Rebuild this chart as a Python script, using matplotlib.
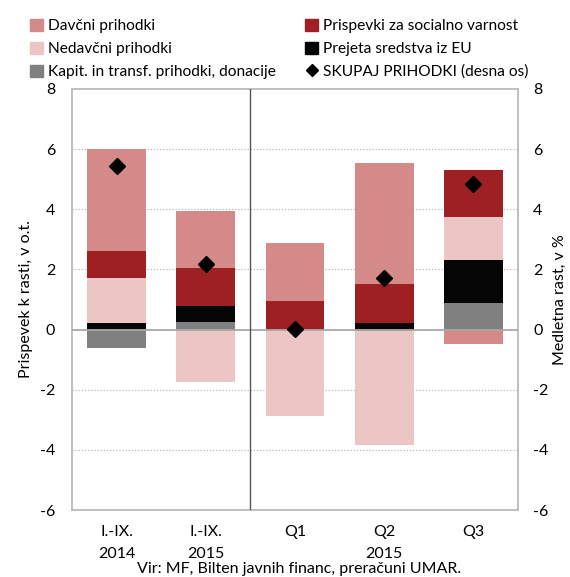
import matplotlib
matplotlib.use("Agg")
import matplotlib.pyplot as plt
from matplotlib.patches import Patch
from matplotlib.lines import Line2D
import numpy as np

plt.rcParams['font.family'] = ['Lato', 'DejaVu Sans']

categories = ["I.-IX.\n2014", "I.-IX.\n2015", "Q1", "Q2\n2015", "Q3"]
davcni = [3.41, 1.89, 1.95, 4.02, -0.47]
prispevki = [0.90, 1.26, 0.94, 1.30, 1.56]
nedavcni = [1.50, -1.75, -2.89, -3.79, 1.43]
eu = [0.21, 0.53, 0.00, 0.22, 1.43]
kapit = [-0.62, 0.25, 0.00, -0.05, 0.87]
skupaj = [5.43, 2.19, 0.03, 1.72, 4.83]

names = ["Davčni prihodki", "Nedavčni prihodki", "Kapit. in transf. prihodki, donacije",
         "Prispevki za socialno varnost", "Prejeta sredstva iz EU"]
total_name = "SKUPAJ PRIHODKI (desna os)"
yticks = [-6, -4, -2, 0, 2, 4, 6, 8]

col_dav = "#d48a88"
col_pri = "#9e2023"
col_ned = "#ecc5c5"
col_eu = "#050505"
col_kap = "#808080"

fig = plt.figure(figsize=(5.70, 5.77), dpi=100)
ax = fig.add_axes([72/570, 1-510/577, 446/570, 421/577])

x = np.arange(len(categories))
w = 0.66
stack = [(kapit, col_kap), (eu, col_eu), (nedavcni, col_ned), (prispevki, col_pri), (davcni, col_dav)]
pos = np.zeros(len(x))
neg = np.zeros(len(x))
for vals, c in stack:
    v = np.array(vals, dtype=float)
    bottoms = np.where(v >= 0, pos, neg)
    ax.bar(x, v, width=w, bottom=bottoms, color=c, edgecolor="none", zorder=3)
    pos = pos + np.where(v >= 0, v, 0)
    neg = neg + np.where(v < 0, v, 0)

ax.set_xlim(-0.5, 4.5)
ax.set_ylim(-6, 8)
ax.set_yticks(yticks)
ax.set_yticklabels([str(t) for t in yticks], fontsize=11.5)
ax.set_xticks(x)
ax.set_xticklabels(categories, fontsize=11.5, linespacing=1.7)
ax.tick_params(axis="y", length=0, pad=12)
ax.tick_params(axis="x", length=0, pad=11)
for t in yticks:
    if t not in (0, -6, 8):
        ax.axhline(t, color="#b8b8b8", linestyle=(0, (1, 1.5)), linewidth=0.9, zorder=1)
ax.axhline(0, color="#a8a8a8", linewidth=1.3, zorder=4)
ax.axvline(1.5, color="#555555", linewidth=1.0, zorder=4)
for s in ax.spines.values():
    s.set_color("#bbbbbb")
    s.set_linewidth(1.3)
ax.set_ylabel("Prispevek k rasti, v o.t.", fontsize=11.5, labelpad=5)

ax2 = ax.twinx()
ax2.set_ylim(-6, 8)
ax2.set_yticks(yticks)
ax2.set_yticklabels([str(t) for t in yticks], fontsize=11.5)
ax2.tick_params(length=0, pad=11)
for s in ax2.spines.values():
    s.set_visible(False)
ax2.plot(x, skupaj, linestyle="none", marker="D", markersize=8, color="black", zorder=5)
ax2.set_ylabel("Medletna rast, v %", fontsize=11.5, labelpad=3)

handles = [Patch(color=col_dav), Patch(color=col_ned), Patch(color=col_kap),
           Patch(color=col_pri), Patch(color=col_eu),
           Line2D([], [], linestyle="none", marker="D", markersize=6, color="black")]
labels = names + [total_name]
fig.legend(handles, labels, ncol=2, loc="upper left", bbox_to_anchor=(0.042, 0.978),
           frameon=False, fontsize=11.2, handlelength=0.8, handleheight=0.8,
           handletextpad=0.35, columnspacing=1.9, labelspacing=0.55, borderaxespad=0)

fig.text(0.525, 1-569/577, "Vir: MF, Bilten javnih financ, preračuni UMAR.", ha="center", va="center", fontsize=11.5)

fig.savefig("out.png", dpi=100)
